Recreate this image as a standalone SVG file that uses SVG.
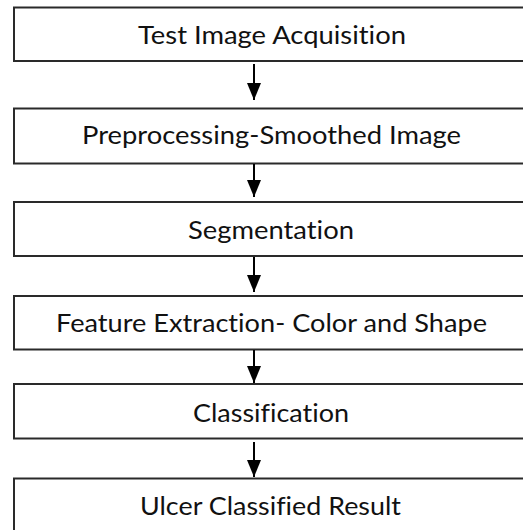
<svg xmlns="http://www.w3.org/2000/svg" width="523" height="530" viewBox="0 0 523 530">
<style>
.box{fill:#fff;stroke:#2a2a2a;stroke-width:2}
.lbl{font-family:Lato,"Open Sans","Liberation Sans",sans-serif;font-size:25px;fill:#111;text-anchor:middle;font-variant-ligatures:none;font-feature-settings:"liga" 0,"clig" 0}
.conn{stroke:#000;stroke-width:2;fill:none}
</style>
<defs>
<marker id="ah" markerUnits="userSpaceOnUse" markerWidth="18" markerHeight="16" refX="17" refY="8" orient="auto" viewBox="0 0 18 16">
<polygon points="0,1 0,15 17,8" fill="#000"/>
</marker>
</defs>
<rect width="523" height="530" fill="#fff"/>
<g id="n1"><rect class="box" x="14" y="7.5" width="520" height="53.5"/><text class="lbl" x="272" y="44" textLength="268" lengthAdjust="spacingAndGlyphs">Test Image Acquisition</text></g>
<g id="n2"><rect class="box" x="14" y="108.5" width="520" height="55"/><text class="lbl" x="271.5" y="144" textLength="379" lengthAdjust="spacingAndGlyphs">Preprocessing-Smoothed Image</text></g>
<g id="n3"><rect class="box" x="14" y="202" width="520" height="54"/><text class="lbl" x="271" y="238.5" textLength="166" lengthAdjust="spacingAndGlyphs">Segmentation</text></g>
<g id="n4"><rect class="box" x="14" y="296" width="520" height="53.5"/><text class="lbl" x="271.5" y="332" textLength="431" lengthAdjust="spacingAndGlyphs">Feature Extraction- Color and Shape</text></g>
<g id="n5"><rect class="box" x="14" y="384" width="520" height="54.5"/><text class="lbl" x="271" y="421.5" textLength="156" lengthAdjust="spacingAndGlyphs">Classification</text></g>
<g id="n6"><rect class="box" x="14" y="478.5" width="520" height="60"/><text class="lbl" x="270.5" y="515" textLength="261" lengthAdjust="spacingAndGlyphs">Ulcer Classified Result</text></g>
<g id="connectors">
<line class="conn" x1="254" y1="64" x2="254" y2="100" marker-end="url(#ah)"/>
<line class="conn" x1="254" y1="164" x2="254" y2="197" marker-end="url(#ah)"/>
<line class="conn" x1="254" y1="257" x2="254" y2="292" marker-end="url(#ah)"/>
<line class="conn" x1="254" y1="350" x2="254" y2="383" marker-end="url(#ah)"/>
<line class="conn" x1="254" y1="442" x2="254" y2="477" marker-end="url(#ah)"/>
</g>
</svg>
